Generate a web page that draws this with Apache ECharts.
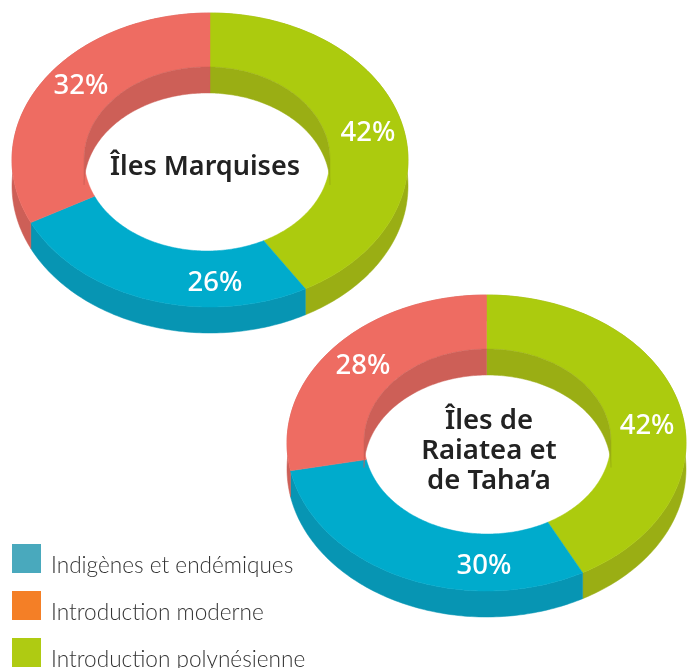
<!DOCTYPE html>
<html>
<head>
<meta charset="utf-8">
<style>
  html, body { margin: 0; padding: 0; background: #fff; }
  #main { width: 693px; height: 668px; }
</style>
<script src="https://cdn.jsdelivr.net/npm/echarts@6/dist/echarts.min.js"></script>
</head>
<body>
<div id="main"></div>
<script>
var marquisesValues = [42, 26, 32];
var raiateaValues = [42, 30, 28];
var marquisesLabels = ["42%", "26%", "32%"];
var raiateaLabels = ["42%", "30%", "28%"];
var legendNames = ["Indigènes et endémiques", "Introduction moderne", "Introduction polynésienne"];
var legendColors = ["#49a9bd", "#f47f26", "#afcb12"];

var topColors = ["#accb0e", "#00abcc", "#ee6c62"];
var sideColors = ["#9aae14", "#0795b3", "#cd5f57"];
var DEPTH = 26;

// ellipse box of each donut, the hole and where the % labels sit (unit coords, y up)
var donuts = [
  {
    values: marquisesValues, labels: marquisesLabels,
    left: 12, top: 13, width: 396, height: 294,
    holeR: [0.621, 0.626], holeC: [-0.015, 0.007],
    labelAt: [[0.798, 0.184], [0.025, -0.837], [-0.652, 0.503]]
  },
  {
    values: raiateaValues, labels: raiateaLabels,
    left: 287, top: 295, width: 399, height: 296,
    holeR: [0.619, 0.625], holeC: [0.005, 0.01],
    labelAt: [[0.805, 0.115], [-0.013, -0.831], [-0.619, 0.52]]
  }
];

function arc(api, rx, ry, cx, cy, from, to, dy, phase) {
  var pts = [];
  var n = Math.max(2, Math.ceil((to - from) * 360));
  for (var i = 0; i <= n; i++) {
    var a = 2 * Math.PI * (from + (to - from) * i / n + phase);
    var p = api.coord([cx + rx * Math.sin(a), cy + ry * Math.cos(a)]);
    pts.push([p[0], p[1] + dy]);
  }
  return pts;
}

function sliceRange(values, i) {
  var total = values.reduce(function (s, v) { return s + v; }, 0);
  var before = 0;
  for (var k = 0; k < i; k++) before += values[k];
  return [before / total, (before + values[i]) / total];
}

function makeRender(d, layer) {
  // the hole is a bit off centre, turn it slightly so the 0% seam stays vertical
  var phase = Math.asin(-d.holeC[0] / d.holeR[0]) / (2 * Math.PI);
  function hole(api, from, to, dy) {
    return arc(api, d.holeR[0], d.holeR[1], d.holeC[0], d.holeC[1], from, to, dy, phase);
  }
  return function (params, api) {
    var i = params.dataIndex;
    var r = sliceRange(d.values, i);
    var from = r[0], to = r[1];
    var children = [];
    function poly(points, color) {
      children.push({
        type: "polygon",
        shape: { points: points },
        style: { fill: color, stroke: color, lineWidth: 0.5 }
      });
    }
    if (layer === "wall") {
      poly(arc(api, 1, 1, 0, 0, from, to, 0, 0)
        .concat(arc(api, 1, 1, 0, 0, from, to, DEPTH, 0).reverse()), sideColors[i]);
    } else if (layer === "top") {
      poly(arc(api, 1, 1, 0, 0, from, to, 0, 0)
        .concat(hole(api, from, to, 0).reverse()), topColors[i]);
    } else {
      // inner wall only shows on the far side of the hole
      [[from, Math.min(to, 0.25 - phase)], [Math.max(from, 0.75 - phase), to]].forEach(function (q) {
        if (q[1] <= q[0]) return;
        poly(hole(api, q[0], q[1], 0).concat(hole(api, q[0], q[1], DEPTH).reverse()), sideColors[i]);
      });
    }
    return { type: "group", children: children };
  };
}

function makeLabelRender(d) {
  return function (params, api) {
    var i = params.dataIndex;
    var p = api.coord(d.labelAt[i]);
    return {
      type: "text",
      x: p[0],
      y: p[1],
      style: {
        text: d.labels[i],
        fill: "#fff",
        font: "500 27.5px 'Noto Sans'",
        textAlign: "center",
        textVerticalAlign: "middle"
      }
    };
  };
}

var grids = [], xAxes = [], yAxes = [], series = [];
donuts.forEach(function (d, n) {
  grids.push({ left: d.left, top: d.top, width: d.width, height: d.height });
  xAxes.push({ type: "value", gridIndex: n, min: -1, max: 1, show: false });
  yAxes.push({ type: "value", gridIndex: n, min: -1, max: 1, show: false });
  var rows = d.values.map(function (v) { return [0, 0, v]; });
  ["wall", "top", "inner"].forEach(function (layer) {
    series.push({
      type: "custom",
      name: layer,
      xAxisIndex: n,
      yAxisIndex: n,
      clip: false,
      silent: true,
      animation: false,
      data: rows,
      renderItem: makeRender(d, layer)
    });
  });
  series.push({
    type: "custom",
    xAxisIndex: n,
    yAxisIndex: n,
    clip: false,
    silent: true,
    animation: false,
    data: rows,
    renderItem: makeLabelRender(d)
  });
});

var legendGraphic = [];
legendNames.forEach(function (name, i) {
  legendGraphic.push({
    type: "rect",
    left: 12,
    top: 544 + i * 47,
    shape: { width: 29, height: 29 },
    style: { fill: legendColors[i] }
  });
  legendGraphic.push({
    type: "text",
    left: 51,
    top: 554 + i * 47,
    style: { text: name, fill: "#333", font: "300 22.6px Lato" }
  });
});

var chart = echarts.init(document.getElementById("main"), null, { renderer: "canvas" });
chart.setOption({
  animation: false,
  backgroundColor: "#fff",
  title: [
    {
      text: "Îles Marquises",
      left: 205,
      top: 149,
      textAlign: "center",
      padding: 0,
      textStyle: { color: "#222", fontFamily: "Noto Sans", fontWeight: 600, fontSize: 27, lineHeight: 36 }
    },
    {
      text: "Îles de\nRaiatea et\nde Taha’a",
      left: 489,
      top: 406,
      textAlign: "center",
      padding: 0,
      textStyle: { color: "#222", fontFamily: "Noto Sans", fontWeight: 600, fontSize: 27.5, lineHeight: 30 }
    }
  ],
  grid: grids,
  xAxis: xAxes,
  yAxis: yAxes,
  series: series,
  graphic: legendGraphic
});
</script>
</body>
</html>
